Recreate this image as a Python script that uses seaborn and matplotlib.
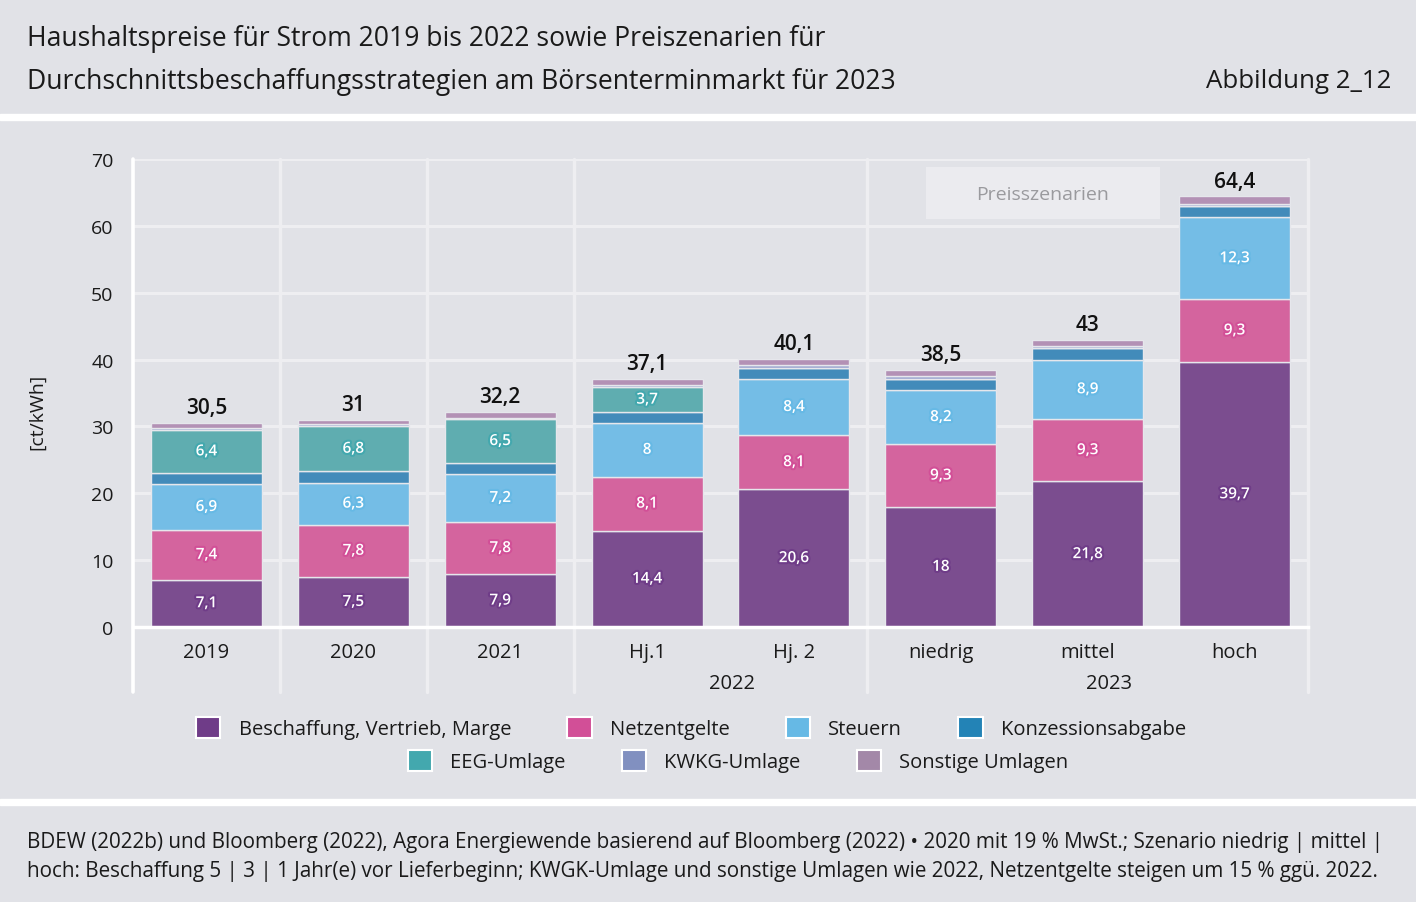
import matplotlib
matplotlib.use("Agg")
import matplotlib.pyplot as plt
import matplotlib.patheffects as pe
from matplotlib.patches import Rectangle, Patch
import seaborn as sns
import numpy as np

# ---------------- data ----------------
categories = ["2019", "2020", "2021", "Hj.1", "Hj. 2", "niedrig", "mittel", "hoch"]
beschaffung = [7.1, 7.5, 7.9, 14.4, 20.6, 18.0, 21.8, 39.7]
netzentgelte = [7.4, 7.8, 7.8, 8.1, 8.1, 9.3, 9.3, 9.3]
steuern = [6.9, 6.3, 7.2, 8.0, 8.4, 8.2, 8.9, 12.3]
konzession = [1.66, 1.66, 1.66, 1.66, 1.66, 1.66, 1.66, 1.66]
eeg = [6.4, 6.8, 6.5, 3.7, 0.0, 0.0, 0.0, 0.0]
kwkg = [0.28, 0.23, 0.25, 0.38, 0.38, 0.38, 0.38, 0.38]
sonstige = [0.76, 0.71, 0.89, 0.86, 0.96, 0.96, 0.96, 1.06]
series_names = ["Beschaffung, Vertrieb, Marge", "Netzentgelte", "Steuern",
                "Konzessionsabgabe", "EEG-Umlage", "KWKG-Umlage", "Sonstige Umlagen"]
group_labels = ["2022", "2023"]
yticks = [0, 10, 20, 30, 40, 50, 60, 70]

title_1 = "Haushaltspreise für Strom 2019 bis 2022 sowie Preiszenarien für"
title_2 = "Durchschnittsbeschaffungsstrategien am Börsenterminmarkt für 2023"
fig_id = "Abbildung 2_12"
footer_1 = ("BDEW (2022b) und Bloomberg (2022), Agora Energiewende basierend auf Bloomberg (2022) • "
            "2020 mit 19 % MwSt.; Szenario niedrig | mittel |")
footer_2 = ("hoch: Beschaffung 5 | 3 | 1 Jahr(e) vor Lieferbeginn; KWGK-Umlage und sonstige Umlagen "
            "wie 2022, Netzentgelte steigen um 15 % ggü. 2022.")

# ---------------- style ----------------
BG = "#e1e2e7"
TXT = "#1a1a1a"
bar_colors = ["#7b4d8f", "#d4649e", "#74bde6", "#428bba", "#5fadb0", "#9aa4cf", "#b391b5"]
leg_colors = ["#6f3c88", "#d24f97", "#66b9e5", "#2383b6", "#43a8ae", "#8190c0", "#a388a8"]
labeled = [True, True, True, False, True, False, False]

sns.set_theme(style="white")
plt.rcParams["font.family"] = ["Open Sans", "DejaVu Sans"]

W, H = 1416, 903
fig = plt.figure(figsize=(W / 100, H / 100), dpi=100, facecolor=BG)
ax = fig.add_axes([133 / W, 1 - 628 / H, 1175 / W, 468 / H])
ax.set_facecolor(BG)

# white separator bands
for y0, y1 in [(115, 121), (800, 806)]:
    fig.add_artist(Rectangle((0, 1 - y1 / H), 1, (y1 - y0) / H,
                             transform=fig.transFigure, color="white", zorder=0))


def fmt(v):
    s = f"{v:.1f}".replace(".", ",")
    if s.endswith(",0"):
        s = s[:-2]
    return s


series = [beschaffung, netzentgelte, steuern, konzession, eeg, kwkg, sonstige]
bottom = np.zeros(len(categories))
for vals, bc, lc, lab in zip(series, bar_colors, leg_colors, labeled):
    vals = np.asarray(vals, dtype=float)
    sns.barplot(x=categories, y=vals, order=categories, color=bc, saturation=1,
                width=0.755, bottom=bottom.copy(), errorbar=None, ax=ax,
                edgecolor="#e6e7ec", linewidth=1.0, zorder=3)
    if lab:
        for i, v in enumerate(vals):
            if v > 0:
                ax.text(i, bottom[i] + v / 2, fmt(v), ha="center", va="center",
                        color="white", fontsize=11, fontweight="semibold", zorder=6,
                        path_effects=[pe.withStroke(linewidth=3, foreground=lc)])
    bottom += vals

for i, tot in enumerate(bottom):
    ax.text(i, tot + 2.3, fmt(round(tot, 1)), ha="center", va="center",
            fontsize=15, fontweight="semibold", color="#111111", zorder=6)

# axes styling
ax.set_xlim(-0.5, len(categories) - 0.5)
ax.set_ylim(0, 70)
ax.set_yticks(yticks)
ax.set_yticklabels([str(t) for t in yticks])
ax.set_xlabel("")
ax.set_ylabel("")
for s in ["top", "right", "left"]:
    ax.spines[s].set_visible(False)
ax.spines["bottom"].set_color("white")
ax.spines["bottom"].set_linewidth(2.5)
ax.spines["bottom"].set_zorder(4)
ax.tick_params(axis="y", length=8, width=2.2, color="white", labelsize=14, labelcolor=TXT, pad=6)
ax.tick_params(axis="x", length=0, labelsize=14.5, labelcolor=TXT, pad=11)

for y in yticks[1:]:
    ax.axhline(y, color="#eeeef1", lw=2.2, zorder=0.5)

# vertical separators (extend below axis)
xt = ax.get_xaxis_transform()
ax.plot([-0.5, -0.5], [-0.139, 1], transform=xt, color="white", lw=2.6, clip_on=False, zorder=4)
for xs in [0.5, 1.5, 2.5, 4.5, 7.5]:
    ax.plot([xs, xs], [-0.139, 1], transform=xt, color="#eeeef1", lw=2.4, clip_on=False, zorder=0.6)

# group labels
ax.text(3.575, -0.12, group_labels[0], transform=xt, ha="center", va="center",
        fontsize=14.5, color=TXT)
ax.text(6.146, -0.12, group_labels[1], transform=xt, ha="center", va="center",
        fontsize=14.5, color=TXT)

# Preisszenarien box
ax.add_patch(Rectangle((0.675, 0.872), 0.199, 0.111, transform=ax.transAxes,
                       facecolor="#ebebef", edgecolor="none", zorder=2))
ax.text(0.7745, 0.925, "Preisszenarien", transform=ax.transAxes, ha="center",
        va="center", fontsize=14, color="#9a9a9e", zorder=3)

# y label
fig.text(37 / W, 1 - 412 / H, "[ct/kWh]", rotation=90, ha="center", va="center",
         fontsize=14, color=TXT)

# titles
fig.text(27 / W, 1 - 39 / H, title_1, ha="left", va="center", fontsize=19.1, color=TXT)
fig.text(27 / W, 1 - 82 / H, title_2, ha="left", va="center", fontsize=19.1, color=TXT)
fig.text(1391 / W, 1 - 82 / H, fig_id, ha="right", va="center", fontsize=18.6, color=TXT)

# footer
fig.text(27 / W, 1 - 843 / H, footer_1, ha="left", va="center", fontsize=14.9, color=TXT)
fig.text(27 / W, 1 - 872 / H, footer_2, ha="left", va="center", fontsize=14.9, color=TXT)

# legends (two centred rows)
handles = [Patch(facecolor=c, edgecolor="white", linewidth=1.5) for c in leg_colors]
leg_kw = dict(frameon=False, fontsize=14.5, handlelength=1.2, handleheight=1.2,
              handletextpad=0.9, columnspacing=2.8, borderpad=0, labelcolor=TXT)
leg1 = fig.legend(handles[:4], series_names[:4], ncol=4, loc="center",
                  bbox_to_anchor=(691 / W, 1 - 729 / H), **leg_kw)
leg2 = fig.legend(handles[4:], series_names[4:], ncol=3, loc="center",
                  bbox_to_anchor=(738 / W, 1 - 762 / H), **leg_kw)

fig.savefig("out.png", dpi=100, facecolor=BG)
